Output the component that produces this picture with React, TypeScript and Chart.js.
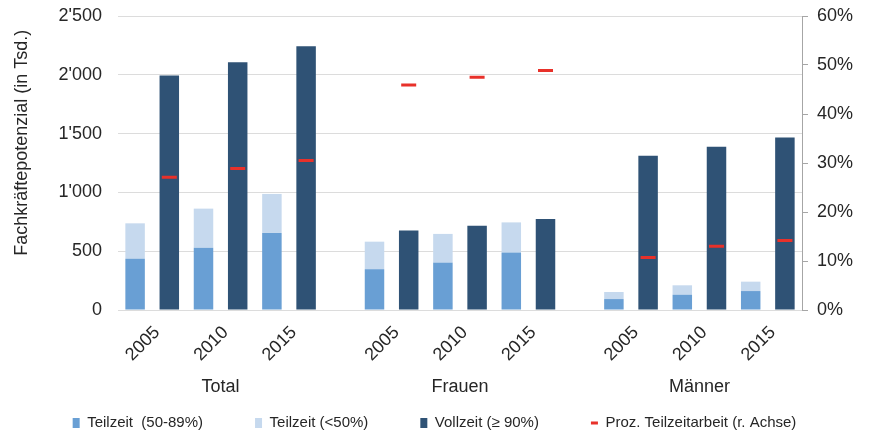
import React, { useEffect, useRef } from 'react';
import { Chart, registerables } from 'chart.js';

Chart.register(...registerables);

// Gruppen und Jahre
const groups = ['Total', 'Frauen', 'Männer'];
const years = ['2005', '2010', '2015'];

// Fachkräftepotenzial in Tsd. je Gruppe (Total, Frauen, Männer) für 2005 / 2010 / 2015
const teilzeit50bis89 = [
  [435, 530, 655],
  [347, 403, 490],
  [93, 130, 161],
];
const teilzeitUnter50 = [
  [302, 332, 332],
  [234, 244, 255],
  [60, 80, 80],
];
const vollzeit = [
  [1995, 2107, 2243],
  [677, 716, 773],
  [1311, 1388, 1467],
];
// Anteil Teilzeitarbeit in % (rechte Achse)
const teilzeitAnteil = [
  [27.1, 28.9, 30.5],
  [45.9, 47.5, 48.9],
  [10.7, 13.0, 14.2],
];

const leftAxisMax = 2500;
const leftAxisStep = 500;
const rightAxisMax = 60;
const rightAxisStep = 10;

const seriesNames = [
  'Teilzeit  (50-89%)',
  'Teilzeit (<50%)',
  'Vollzeit (≥ 90%)',
  'Proz. Teilzeitarbeit (r. Achse)',
];
const yAxisTitle = 'Fachkräftepotenzial (in Tsd.)';

const FONT = '"Liberation Sans", Arial, Helvetica, sans-serif';
const TEXT = '#262626';
const AXIS_FONT = { family: FONT, size: 18 };

type Slot = { kind: 'tz' | 'vz' | 'gap'; g: number; y: number };

// Each year takes two slots (Teilzeit stack, Vollzeit bar); an empty slot separates the groups.
function buildSlots(): Slot[] {
  const slots: Slot[] = [];
  groups.forEach((_, g) => {
    if (g > 0) slots.push({ kind: 'gap', g, y: -1 });
    years.forEach((__, y) => {
      slots.push({ kind: 'tz', g, y });
      slots.push({ kind: 'vz', g, y });
    });
  });
  return slots;
}

function fmtThousands(v: number): string {
  if (v >= 1000) {
    const th = Math.floor(v / 1000);
    const rest = String(v % 1000).padStart(3, '0');
    return `${th}'${rest}`;
  }
  return String(v);
}

// Rotated title of the left axis, placed a bit above the middle of the plot
const axisTitlePlugin = {
  id: 'leftAxisTitle',
  afterDraw(chart: any) {
    const { ctx, chartArea } = chart;
    ctx.save();
    ctx.translate(22, chartArea.top + chartArea.height * 0.431);
    ctx.rotate(-Math.PI / 2);
    ctx.font = `18px ${FONT}`;
    ctx.fillStyle = TEXT;
    ctx.textAlign = 'center';
    ctx.textBaseline = 'middle';
    ctx.fillText(yAxisTitle, 0, 0);
    ctx.restore();
  },
};

export default function App() {
  const canvasRef = useRef<HTMLCanvasElement | null>(null);

  useEffect(() => {
    document.body.style.margin = '0';
    const slots = buildSlots();
    const yearLabels = slots.map((s) => (s.kind === 'tz' ? years[s.y] : ''));
    const groupLabels = slots.map((s) => (s.kind === 'tz' && s.y === 1 ? groups[s.g] : ''));

    const pick = (kind: 'tz' | 'vz', arr: number[][]) =>
      slots.map((s) => (s.kind === kind ? arr[s.g][s.y] : null));

    const chart = new Chart(canvasRef.current as HTMLCanvasElement, {
      type: 'bar',
      data: {
        labels: yearLabels,
        datasets: [
          {
            type: 'bar',
            label: seriesNames[0],
            data: pick('tz', teilzeit50bis89),
            backgroundColor: '#699fd4',
            stack: 's',
            order: 1,
            pointStyle: 'rect',
            yAxisID: 'y',
          },
          {
            type: 'bar',
            label: seriesNames[1],
            data: pick('tz', teilzeitUnter50),
            backgroundColor: '#c6d9ee',
            stack: 's',
            order: 1,
            pointStyle: 'rect',
            yAxisID: 'y',
          },
          {
            type: 'bar',
            label: seriesNames[2],
            data: pick('vz', vollzeit),
            backgroundColor: '#2f5275',
            stack: 's',
            order: 1,
            pointStyle: 'rect',
            yAxisID: 'y',
          },
          {
            type: 'line',
            label: seriesNames[3],
            data: pick('vz', teilzeitAnteil),
            yAxisID: 'y1',
            showLine: false,
            borderColor: '#e8312a',
            backgroundColor: '#e8312a',
            borderWidth: 3,
            pointStyle: 'line',
            pointRadius: 7.5,
            pointBorderWidth: 3,
            pointBorderColor: '#e8312a',
            order: 0,
          } as any,
        ],
      },
      options: {
        animation: false,
        responsive: false,
        events: [],
        layout: { padding: { top: 16, bottom: -6.5, left: 0, right: 0 } },
        datasets: {
          bar: { categoryPercentage: 1, barPercentage: 0.57 },
        },
        plugins: {
          tooltip: { enabled: false },
          legend: {
            position: 'bottom',
            labels: {
              usePointStyle: true,
              pointStyleWidth: 7,
              boxHeight: 10,
              padding: 52,
              color: TEXT,
              font: { family: FONT, size: 15 },
              sort: (a: any, b: any) => a.datasetIndex - b.datasetIndex,
            },
          },
        },
        scales: {
          x: {
            type: 'category',
            stacked: true,
            position: 'bottom',
            grid: { display: false, drawTicks: false },
            border: { display: false },
            ticks: {
              autoSkip: false,
              minRotation: 45,
              maxRotation: 45,
              padding: 12,
              labelOffset: 22,
              color: TEXT,
              font: AXIS_FONT,
            },
            afterFit: (s: any) => {
              s.height = 53;
            },
          },
          // Group names under the year labels
          x2: {
            type: 'category',
            labels: groupLabels,
            position: 'bottom',
            weight: 1,
            offset: true,
            grid: { display: false, drawTicks: false },
            border: { display: false },
            ticks: {
              autoSkip: false,
              minRotation: 0,
              maxRotation: 0,
              mirror: true,
              padding: -34.8,
              labelOffset: 17.1,
              color: TEXT,
              font: AXIS_FONT,
            },
            afterFit: (s: any) => {
              s.height = 0.5;
            },
          },
          y: {
            type: 'linear',
            position: 'left',
            stacked: true,
            min: 0,
            max: leftAxisMax,
            grid: {
              color: '#dcdcdc',
              drawTicks: true,
              tickLength: 16,
              tickColor: 'rgba(0,0,0,0)',
            },
            border: { display: false },
            ticks: {
              stepSize: leftAxisStep,
              padding: 0,
              color: TEXT,
              font: AXIS_FONT,
              callback: (v: any) => fmtThousands(Number(v)),
            },
            afterFit: (s: any) => {
              s.width = 118;
            },
          },
          y1: {
            type: 'linear',
            position: 'right',
            min: 0,
            max: rightAxisMax,
            grid: {
              drawOnChartArea: false,
              drawTicks: true,
              tickLength: 15,
              tickBorderDash: [5, 40],
              color: '#a6a6a6',
            },
            border: { display: true, color: '#a6a6a6' },
            ticks: {
              stepSize: rightAxisStep,
              padding: 0,
              color: TEXT,
              font: AXIS_FONT,
              callback: (v: any) => `${v}%`,
            },
            afterFit: (s: any) => {
              s.width = 67;
            },
          },
        },
      } as any,
      plugins: [axisTitlePlugin],
    });

    return () => chart.destroy();
  }, []);

  return (
    <div style={{ width: 869, height: 434, background: '#fff' }}>
      <canvas ref={canvasRef} width={869} height={434} style={{ display: 'block' }} />
    </div>
  );
}
